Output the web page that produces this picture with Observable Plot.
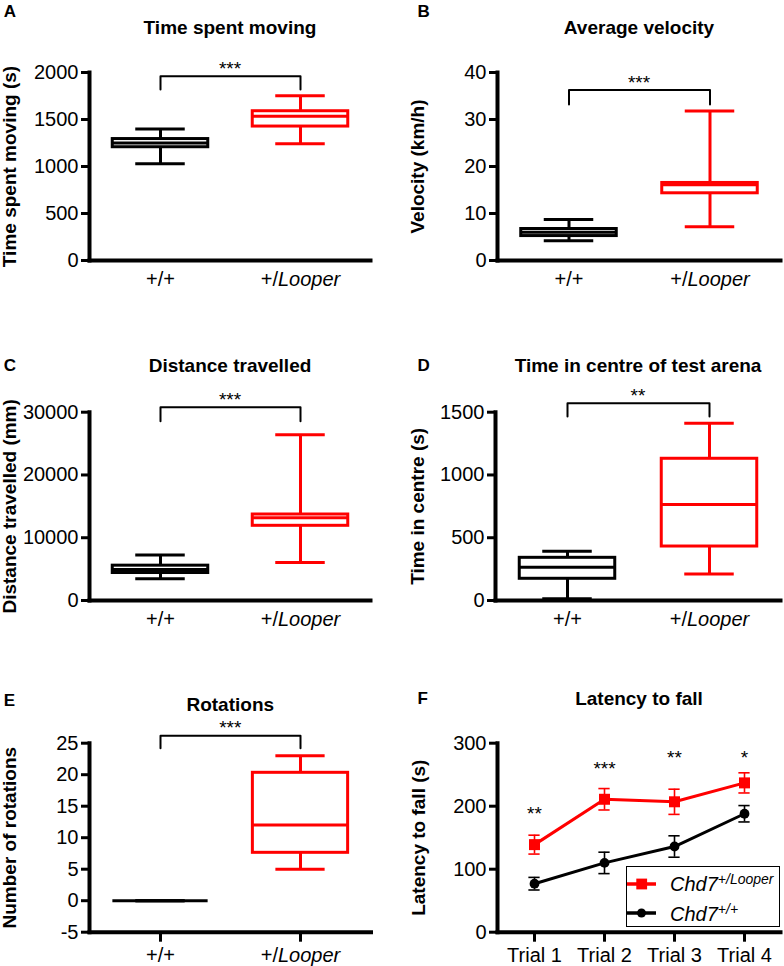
<!DOCTYPE html>
<html><head><meta charset="utf-8">
<script src="https://cdn.jsdelivr.net/npm/d3@7"></script>
<script src="https://cdn.jsdelivr.net/npm/@observablehq/plot@0.6"></script>
<style>
body{margin:0;background:#fff;font-family:"Liberation Sans",Arial,sans-serif;}
#root{position:relative;width:784px;height:966px;overflow:hidden;background:#fff;}
.panel{position:absolute;}
#legend{position:absolute;left:626px;top:866px;width:154px;height:61px;box-sizing:border-box;border:1.5px solid #000;background:#fff;}
#legend .sw{position:absolute;left:0;}
#legend .lt{position:absolute;left:43px;font-size:20px;line-height:1;font-style:italic;white-space:nowrap;color:#000;}
#legend .lt span{position:relative;top:-7px;font-size:14px;}
</style></head><body><div id="root"></div>
<script>
const groups = ["+/+", "+/Looper"];

// A: Time spent moving (s)
const movingMin = [1028, 1241];
const movingQ1  = [1205, 1425];
const movingMed = [1250, 1535];
const movingQ3  = [1292, 1588];
const movingMax = [1400, 1752];
const movingBracket = [1820, 1960];

// B: Velocity (km/h)
const velMin = [4.2, 7.2];
const velQ1  = [5.2, 14.3];
const velMed = [6.0, 16.1];
const velQ3  = [6.7, 16.5];
const velMax = [8.7, 31.8];
const velBracket = [33.2, 36.3];

// C: Distance travelled (mm)
const distMin = [3450, 6050];
const distQ1  = [4380, 11900];
const distMed = [4950, 13200];
const distQ3  = [5550, 13700];
const distMax = [7250, 26400];
const distBracket = [28570, 30800];

// D: Time in centre (s)
const centreMin = [13, 212];
const centreQ1  = [173, 430];
const centreMed = [265, 765];
const centreQ3  = [340, 1129];
const centreMax = [393, 1412];
const centreBracket = [1466, 1572];

// E: Number of rotations
const rotMin = [0, 5];
const rotQ1  = [0, 7.6];
const rotMed = [0, 12];
const rotQ3  = [0, 20.3];
const rotMax = [0, 23];
const rotBracket = [24.2, 26.2];

// F: Latency to fall (s)
const trials = ["Trial 1", "Trial 2", "Trial 3", "Trial 4"];
const looperMean = [139, 211, 207, 237];
const looperSem  = [15, 17, 20, 16];
const wtMean = [77, 110, 136, 188];
const wtSem  = [10, 17, 17, 13];
const trialStars = ["**", "***", "**", "*"];
const trialStarY = [188, 259, 276, 276];

const FONT = '"Liberation Sans", Arial, Helvetica, sans-serif';
const RED = "#ff0000";
const root = document.getElementById("root");

function boxRows(mins, q1s, meds, q3s, maxs) {
  return groups.map((g, i) => ({g, min: mins[i], q1: q1s[i], med: meds[i], q3: q3s[i], max: maxs[i]}));
}

function italicize(svg) {
  const ns = "http://www.w3.org/2000/svg";
  for (const t of svg.querySelectorAll("text")) {
    if (t.textContent === "+/Looper") {
      t.textContent = "+/";
      const ts = document.createElementNS(ns, "tspan");
      ts.setAttribute("font-style", "italic");
      ts.textContent = "Looper";
      t.appendChild(ts);
    }
  }
}

function place(node, left, top) {
  const d = document.createElement("div");
  d.className = "panel";
  d.style.left = left + "px";
  d.style.top = top + "px";
  d.appendChild(node);
  root.appendChild(d);
}

function annotations(p) {
  return [
    Plot.text([p.title], {frameAnchor: "top", textAnchor: "middle", lineAnchor: "middle", dy: p.titleDy, fontWeight: "bold", fontSize: 19, text: d => d}),
    Plot.text([p.letter], {frameAnchor: "top-left", textAnchor: "start", lineAnchor: "middle", dx: p.letterDx, dy: p.letterDy, fontWeight: "bold", fontSize: 17, text: d => d}),
    Plot.text([p.ylabel], {frameAnchor: "left", textAnchor: "middle", lineAnchor: "middle", rotate: -90, dx: p.ylabelDx, fontWeight: "bold", fontSize: 19, text: d => d})
  ];
}

function boxPanel(p) {
  const frameW = p.width - p.mL - p.mR;
  const bw = frameW / 2;
  const boxIn = (bw - 96) / 2, capIn = (bw - 50) / 2;
  const br = [
    {g: groups[0], v: p.bracket[0]}, {g: groups[0], v: p.bracket[1]},
    {g: groups[1], v: p.bracket[1]}, {g: groups[1], v: p.bracket[0]}
  ];
  const s = {stroke: "g", strokeWidth: 3};
  const svg = Plot.plot({
    width: p.width, height: p.height,
    marginLeft: p.mL, marginRight: p.mR, marginTop: p.mT, marginBottom: p.mB,
    style: {fontFamily: FONT, fontSize: "20px", color: "#000", background: "transparent", overflow: "visible"},
    x: {type: "band", domain: groups, padding: 0},
    y: {domain: p.yDomain},
    color: {domain: groups, range: ["#000000", RED]},
    marks: [
      Plot.ruleX(p.rows, {x: "g", y1: "min", y2: "q1", ...s}),
      Plot.ruleX(p.rows, {x: "g", y1: "q3", y2: "max", ...s}),
      Plot.tickY(p.rows, {x: "g", y: "min", insetLeft: capIn, insetRight: capIn, ...s}),
      Plot.tickY(p.rows, {x: "g", y: "max", insetLeft: capIn, insetRight: capIn, ...s}),
      Plot.barY(p.rows, {x: "g", y1: "q1", y2: "q3", fill: "none", insetLeft: boxIn, insetRight: boxIn, ...s}),
      Plot.tickY(p.rows, {x: "g", y: "med", insetLeft: boxIn, insetRight: boxIn, ...s}),
      Plot.line(br, {x: "g", y: "v", stroke: "#000", strokeWidth: 2}),
      Plot.text([p.star], {y: [p.bracket[1]], text: d => d, frameAnchor: "middle", dy: -7.3, fontSize: 19}),
      Plot.axisY({ticks: p.yTicks, tickSize: 8, tickPadding: 3, strokeWidth: 3, tickFormat: d => String(d), label: null}),
      Plot.axisX({tickSize: p.xTick ? 10 : 0, tickPadding: p.xTick ? 6 : 11, strokeWidth: 3, label: null}),
      Plot.frame({anchor: "left", strokeWidth: 4}),
      Plot.frame({anchor: "bottom", strokeWidth: 4}),
      ...annotations(p)
    ]
  });
  italicize(svg);
  place(svg, p.left, p.top);
}

boxPanel({left: 0, top: 0, width: 392, height: 300, mL: 89, mR: 22, mT: 72, mB: 40,
  yDomain: [0, 2000], yTicks: [0, 500, 1000, 1500, 2000],
  rows: boxRows(movingMin, movingQ1, movingMed, movingQ3, movingMax),
  bracket: movingBracket, star: "***",
  title: "Time spent moving", titleDy: -44.6, letter: "A", letterDx: -85.7, letterDy: -60.6,
  ylabel: "Time spent moving (s)", ylabelDx: -79.5});

boxPanel({left: 392, top: 0, width: 392, height: 300, mL: 105, mR: 4, mT: 72, mB: 40,
  yDomain: [0, 40], yTicks: [0, 10, 20, 30, 40],
  rows: boxRows(velMin, velQ1, velMed, velQ3, velMax),
  bracket: velBracket, star: "***",
  title: "Average velocity", titleDy: -44.6, letter: "B", letterDx: -80, letterDy: -60.6,
  ylabel: "Velocity (km/h)", ylabelDx: -80});

boxPanel({left: 0, top: 300, width: 392, height: 340, mL: 89, mR: 22, mT: 111.7, mB: 40,
  yDomain: [0, 30000], yTicks: [0, 10000, 20000, 30000],
  rows: boxRows(distMin, distQ1, distMed, distQ3, distMax),
  bracket: distBracket, star: "***",
  title: "Distance travelled", titleDy: -46, letter: "C", letterDx: -85.7, letterDy: -46.9,
  ylabel: "Distance travelled (mm)", ylabelDx: -79.6});

boxPanel({left: 392, top: 300, width: 392, height: 340, mL: 103, mR: 4, mT: 111.7, mB: 40,
  yDomain: [0, 1500], yTicks: [0, 500, 1000, 1500],
  rows: boxRows(centreMin, centreQ1, centreMed, centreQ3, centreMax),
  bracket: centreBracket, star: "**",
  title: "Time in centre of test arena", titleDy: -46, letter: "D", letterDx: -78, letterDy: -46.9,
  ylabel: "Time in centre (s)", ylabelDx: -78});

boxPanel({left: 0, top: 640, width: 392, height: 326, mL: 89, mR: 21.5, mT: 102.7, mB: 34.3,
  yDomain: [-5, 25], yTicks: [-5, 0, 5, 10, 15, 20, 25], xTick: true,
  rows: boxRows(rotMin, rotQ1, rotMed, rotQ3, rotMax),
  bracket: rotBracket, star: "***",
  title: "Rotations", titleDy: -38, letter: "E", letterDx: -85.7, letterDy: -42.9,
  ylabel: "Number of rotations", ylabelDx: -79.5});

// Panel F
{
  const p = {left: 392, top: 640, width: 392, height: 326, mL: 105, mR: 4, mT: 102.7, mB: 34.3,
    title: "Latency to fall", titleDy: -44.7, letter: "F", letterDx: -80, letterDy: -44.7,
    ylabel: "Latency to fall (s)", ylabelDx: -78.5};
  const bw = (p.width - p.mL - p.mR) / trials.length;
  const capIn = (bw - 12) / 2;
  const looper = trials.map((t, i) => ({t, m: looperMean[i], s: looperSem[i]}));
  const wt = trials.map((t, i) => ({t, m: wtMean[i], s: wtSem[i]}));
  const err = (rows, color) => [
    Plot.ruleX(rows, {x: "t", y1: d => d.m - d.s, y2: d => d.m + d.s, stroke: color, strokeWidth: 1.6}),
    Plot.tickY(rows, {x: "t", y: d => d.m - d.s, insetLeft: capIn, insetRight: capIn, stroke: color, strokeWidth: 1.6}),
    Plot.tickY(rows, {x: "t", y: d => d.m + d.s, insetLeft: capIn, insetRight: capIn, stroke: color, strokeWidth: 1.6})
  ];
  const svg = Plot.plot({
    width: p.width, height: p.height,
    marginLeft: p.mL, marginRight: p.mR, marginTop: p.mT, marginBottom: p.mB,
    style: {fontFamily: FONT, fontSize: "20px", color: "#000", background: "transparent", overflow: "visible"},
    x: {type: "band", domain: trials, padding: 0},
    y: {domain: [0, 300]},
    marks: [
      ...err(wt, "#000"),
      ...err(looper, RED),
      Plot.line(wt, {x: "t", y: "m", stroke: "#000", strokeWidth: 3}),
      Plot.line(looper, {x: "t", y: "m", stroke: RED, strokeWidth: 3}),
      Plot.dot(wt, {x: "t", y: "m", r: 4.9, fill: "#000", stroke: "none"}),
      Plot.dot(looper, {x: "t", y: "m", r: 6.2, symbol: "square", fill: RED, stroke: "none"}),
      Plot.text(trials, {x: d => d, y: (d, i) => trialStarY[i], text: (d, i) => trialStars[i], fontSize: 19}),
      Plot.axisY({ticks: [0, 100, 200, 300], tickSize: 8, tickPadding: 3, strokeWidth: 3, tickFormat: d => String(d), label: null}),
      Plot.axisX({tickSize: 10, tickPadding: 6, strokeWidth: 3, label: null}),
      Plot.frame({anchor: "left", strokeWidth: 4}),
      Plot.frame({anchor: "bottom", strokeWidth: 4}),
      ...annotations(p)
    ]
  });
  place(svg, p.left, p.top);

  const lg = document.createElement("div");
  lg.id = "legend";
  lg.innerHTML =
    '<svg class="sw" style="top:9.5px" width="30" height="14"><line x1="0" y1="7" x2="29" y2="7" stroke="' + RED + '" stroke-width="3.5"/><rect x="9.3" y="1.6" width="10.8" height="10.8" fill="' + RED + '"/></svg>' +
    '<div class="lt" style="top:7.3px">Chd7<span>+/Looper</span></div>' +
    '<svg class="sw" style="top:39px" width="30" height="14"><line x1="0" y1="7" x2="29" y2="7" stroke="#000" stroke-width="3.5"/><circle cx="14.5" cy="7" r="4.5" fill="#000"/></svg>' +
    '<div class="lt" style="top:37.3px">Chd7<span>+/+</span></div>';
  root.appendChild(lg);
}
</script></body></html>
